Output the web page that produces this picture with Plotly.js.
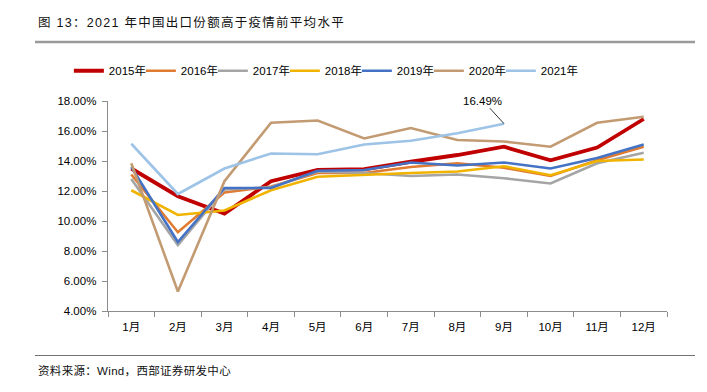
<!DOCTYPE html>
<html>
<head>
<meta charset="utf-8">
<script src="https://cdn.plot.ly/plotly-3.0.1.min.js"></script>
<style>
  html, body { margin: 0; padding: 0; background: #fff; }
  #chart { width: 707px; height: 392px; }
</style>
</head>
<body>
<div id="chart"></div>
<script>
// ---- data (share of exports, %) ----
const months = ['1月','2月','3月','4月','5月','6月','7月','8月','9月','10月','11月','12月'];
const seriesNames = ['2015年','2016年','2017年','2018年','2019年','2020年','2021年'];
const y2015 = [13.50, 11.65, 10.50, 12.65, 13.40, 13.45, 13.95, 14.40, 14.95, 14.05, 14.90, 16.80];
const y2016 = [13.10, 9.25, 11.90, 12.30, 13.20, 13.20, 13.60, 13.85, 13.55, 13.00, 14.05, 14.95];
const y2017 = [12.80, 8.40, 12.10, 12.25, 13.30, 13.20, 13.00, 13.10, 12.85, 12.50, 13.85, 14.55];
const y2018 = [12.05, 10.40, 10.70, 12.05, 12.95, 13.10, 13.20, 13.30, 13.65, 13.05, 14.00, 14.10];
const y2019 = [13.60, 8.60, 12.20, 12.20, 13.35, 13.40, 13.90, 13.70, 13.90, 13.50, 14.20, 15.10];
const y2020 = [13.85, 5.30, 12.65, 16.55, 16.70, 15.50, 16.20, 15.40, 15.30, 14.95, 16.55, 16.95];
const y2021 = [15.15, 11.80, 13.50, 14.50, 14.45, 15.10, 15.35, 15.85, 16.49];
const yTicks = [4, 6, 8, 10, 12, 14, 16, 18];
const yTickText = yTicks.map(v => v.toFixed(2) + '%');
const titleText = '图 13：2021 年中国出口份额高于疫情前平均水平';
const sourceText = '资料来源：Wind，西部证券研发中心';

const allSeries = [y2015, y2016, y2017, y2018, y2019, y2020, y2021];
const colors = ['#C00000', '#E07B32', '#A5A5A5', '#F0B400', '#4472C4', '#C39B73', '#9DC3E6'];
const widths = [3.8, 2.6, 2.6, 2.6, 2.6, 2.6, 2.6];

const traces = allSeries.map((ys, i) => ({
  type: 'scatter',
  mode: 'lines',
  name: seriesNames[i],
  x: months.slice(0, ys.length),
  y: ys,
  line: { color: colors[i], width: widths[i] },
  legendwidth: i === allSeries.length - 1 ? 45 : undefined,
  hoverinfo: 'skip'
}));

const lastIdx = y2021.length - 1;
const fontFam = '"Liberation Sans", Arial, "Noto Sans CJK SC", sans-serif';
const px2x = p => (p - 108) / 559;
const px2y = p => (311 - p) / 210;

const layout = {
  width: 707,
  height: 392,
  margin: { l: 108, r: 40, t: 101, b: 81 },
  paper_bgcolor: '#fff',
  plot_bgcolor: '#fff',
  font: { family: fontFam, color: '#000', size: 11.5 },
  showlegend: true,
  legend: {
    orientation: 'h',
    x: -0.07, xanchor: 'left',
    y: 1.144, yanchor: 'middle',
    entrywidth: 27, entrywidthmode: 'pixels',
    font: { family: fontFam, size: 11.5, color: '#000' },
    bgcolor: 'rgba(0,0,0,0)'
  },
  xaxis: {
    type: 'category',
    categoryorder: 'array',
    categoryarray: months,
    range: [-0.5, 11.5],
    showline: true, linecolor: '#8c8c8c', linewidth: 1.3,
    ticks: 'outside', tickson: 'boundaries', ticklen: 5, tickcolor: '#8c8c8c', tickwidth: 1,
    ticklabelstandoff: 5,
    showgrid: false, zeroline: false,
    tickfont: { family: fontFam, size: 11.5, color: '#000' },
    fixedrange: true
  },
  yaxis: {
    range: [4, 18],
    tickmode: 'array',
    tickvals: yTicks,
    ticktext: yTickText,
    showline: true, linecolor: '#8c8c8c', linewidth: 1.3,
    ticks: 'outside', ticklen: 5, tickcolor: '#8c8c8c', tickwidth: 1,
    ticklabelstandoff: 3,
    showgrid: false, zeroline: false,
    tickfont: { family: fontFam, size: 11.5, color: '#000' },
    fixedrange: true
  },
  shapes: [
    { type: 'line', xref: 'paper', yref: 'paper', x0: px2x(35), x1: px2x(695),
      y0: px2y(42), y1: px2y(42), line: { color: '#9a9a9a', width: 2.5 } },
    { type: 'line', xref: 'paper', yref: 'paper', x0: px2x(35), x1: px2x(695),
      y0: px2y(355.5), y1: px2y(355.5), line: { color: '#707070', width: 1 } }
  ],
  annotations: [
    {
      x: months[lastIdx], y: y2021[lastIdx], xref: 'x', yref: 'y',
      text: y2021[lastIdx].toFixed(2) + '%',
      showarrow: true, arrowhead: 0, arrowwidth: 0.8, arrowcolor: '#000',
      ax: -21, ay: -23, standoff: 0,
      font: { family: fontFam, size: 11.5, color: '#000' }
    },
    {
      xref: 'paper', yref: 'paper',
      x: px2x(36), xanchor: 'left', align: 'left',
      y: px2y(22), yanchor: 'middle',
      text: titleText,
      showarrow: false,
      font: { family: '"Liberation Sans", "Noto Sans CJK SC", sans-serif', size: 12.5, color: '#111' }
    },
    {
      xref: 'paper', yref: 'paper',
      x: px2x(36), xanchor: 'left', align: 'left',
      y: px2y(370), yanchor: 'middle',
      text: sourceText,
      showarrow: false,
      font: { family: '"Liberation Sans", "Noto Sans CJK SC", sans-serif', size: 11.5, color: '#111' }
    }
  ]
};

// stretch a text line to a target width with letter-spacing (matches the spaced typesetting of the original)
function fitWidth(startText, target) {
  const el = Array.from(document.querySelectorAll('.annotation-text'))
    .find(t => t.textContent.indexOf(startText) === 0);
  if (!el) return;
  el.style.letterSpacing = '0px';
  const w0 = el.getComputedTextLength ? el.getComputedTextLength() : el.getBBox().width;
  const n = el.textContent.length;
  const ls = Math.max(0, (target - w0) / n);
  el.style.letterSpacing = ls.toFixed(2) + 'px';
}

Plotly.newPlot('chart', traces, layout, { displayModeBar: false, staticPlot: true }).then(() => {
  fitWidth('图', 307);
  fitWidth('资料', 193);
});
</script>
</body>
</html>
